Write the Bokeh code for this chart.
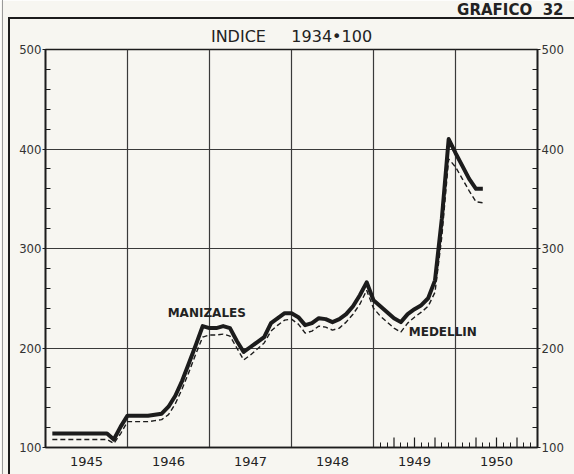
import numpy as np
from bokeh.plotting import figure
from bokeh.models import FixedTicker, LinearAxis, Label, ColumnDataSource, Title, InlineStyleSheet
from bokeh.embed import file_html
from bokeh.resources import INLINE

# ---- data -------------------------------------------------------------
years = [1945, 1946, 1947, 1948, 1949, 1950]
year_labels = ["1945", "1946", "1947", "1948", "1949", "1950"]

# monthly series Jan 1945 .. Apr 1950 (plotted at month end)
month_year = ([1945] * 12 + [1946] * 12 + [1947] * 12 + [1948] * 12 + [1949] * 12 + [1950] * 4)
month_num = list(range(1, 13)) * 5 + [1, 2, 3, 4]

manizales = [114, 114, 114, 114, 114, 114, 114, 114, 114, 108, 121, 132,
             132, 132, 132, 133, 134, 141, 152, 167, 185, 203, 222, 220,
             220, 222, 220, 207, 196, 201, 206, 211, 225, 230, 235, 235,
             231, 223, 225, 230, 229, 226, 229, 234, 242, 253, 266, 248,
             242, 236, 230, 226, 234, 239, 243, 250, 268, 330, 410, 396,
             383, 370, 360, 360]

medellin = [108, 108, 108, 108, 108, 108, 108, 108, 108, 104, 114, 126,
            126, 126, 126, 127, 128, 133, 144, 159, 176, 194, 211, 213,
            213, 214, 212, 200, 188, 193, 199, 205, 217, 223, 228, 229,
            224, 215, 217, 222, 221, 218, 220, 226, 234, 244, 258, 240,
            232, 226, 220, 216, 225, 231, 236, 242, 256, 312, 390, 382,
            370, 358, 347, 346]

y_ticks = [100, 200, 300, 400, 500]
y_minor = [120, 140, 160, 180, 220, 240, 260, 280, 320, 340, 360, 380, 420, 440, 460, 480]
grid_y = [200, 300, 400]
grid_x = [1946, 1947, 1948, 1949, 1950]

# month tick marks shown in 1949-1950
tick_months = [1, 2, 3, 4, 5, 6, 7, 8, 9, 10, 11]
tall_months = [3, 6, 9]
tick_years = [1949, 1950]

# ---- derived positions ------------------------------------------------
t = [y + m / 12.0 for y, m in zip(month_year, month_num)]
year_mid = [y + 0.5 for y in years]
minor_x = [y + m / 12.0 for y in tick_years for m in tick_months if m not in tall_months]
tall_x = [y + m / 12.0 for y in tick_years for m in tall_months]

BG = "#f7f6f1"
INK = "#1c1c1c"

p = figure(width=574, height=474, x_range=(1945, 1951), y_range=(100, 500),
           output_backend="svg", toolbar_location=None,
           min_border_left=45, min_border_right=37, min_border_top=0, min_border_bottom=27,
           background_fill_color=BG, border_fill_color=BG, outline_line_color=INK,
           outline_line_width=1.6)

# outermost title: sheet number; inner title: index base
p.title.text = "GRAFICO  32".replace(" ", "\u00a0")
p.title.align = "right"
p.title.offset = -26
p.title.vertical_align = "top"
p.title.text_font = "DejaVu Sans"
p.title.text_font_style = "bold"
p.title.text_font_size = "15px"
p.title.text_color = "#222222"
p.title.standoff = 0

p.add_layout(Title(text="INDICE\u00a0\u00a0\u00a0\u00a0\u00a01934\u2022100", align="center",
                   vertical_align="bottom",
                   text_font="DejaVu Sans", text_font_style="normal", text_font_size="16px",
                   text_color="#222222", standoff=8,
                   padding=dict(left=0, right=0, top=0, bottom=0)), "above")

# grid
p.xgrid.ticker = FixedTicker(ticks=grid_x)
p.ygrid.ticker = FixedTicker(ticks=grid_y)
for g in (p.xgrid, p.ygrid):
    g.grid_line_color = "#3a3a3a"
    g.grid_line_width = 1.2

# bottom axis: year names centred in each year, month ticks in 1949-50
xa = p.xaxis[0]
xa.ticker = FixedTicker(ticks=year_mid, minor_ticks=minor_x)
xa.major_label_overrides = {ym: lab for ym, lab in zip(year_mid, year_labels)}
xa.major_tick_in = 0
xa.major_tick_out = 0
xa.minor_tick_in = 5
xa.minor_tick_out = 0
xa.minor_tick_line_color = INK
xa.axis_line_color = INK
xa.axis_line_width = 1.6
xa.major_label_standoff = 9
xa.major_label_text_font = "DejaVu Sans"
xa.major_label_text_font_size = "13px"
xa.major_label_text_color = "#222222"

def style_y(ax):
    ax.ticker = FixedTicker(ticks=y_ticks, minor_ticks=y_minor)
    ax.major_tick_in = 0
    ax.major_tick_out = 3
    ax.minor_tick_in = 5
    ax.minor_tick_out = 0
    ax.major_tick_line_color = INK
    ax.minor_tick_line_color = INK
    ax.major_tick_line_width = 1.2
    ax.axis_line_color = INK
    ax.axis_line_width = 1.6
    ax.major_label_standoff = 1
    ax.major_label_text_font = "DejaVu Sans Condensed"
    ax.major_label_text_font_size = "13px"
    ax.major_label_text_color = "#333333"

style_y(p.yaxis[0])
ry = LinearAxis()
style_y(ry)
p.add_layout(ry, "right")

# quarter tick marks (taller), clipped at the frame bottom
p.scatter(x=tall_x, y=[y_ticks[0]] * len(tall_x), marker="dash", angle=np.pi / 2,
          size=20, line_color=INK, line_width=1.2)

src = ColumnDataSource(dict(t=t, man=manizales, med=medellin))
p.line("t", "med", source=src, line_color=INK, line_width=1.4, line_dash="5 3")
p.line("t", "man", source=src, line_color=INK, line_width=4, line_join="round")

lab_style = dict(text_font="DejaVu Sans", text_font_style="bold", text_font_size="12px",
                 text_color="#222222", text_baseline="middle", text_align="left")
p.add_layout(Label(x=1946.49, y=235, text="MANIZALES", **lab_style))
p.add_layout(Label(x=1949.43, y=216, text="MEDELLIN", **lab_style))

# printed sheet frame (top and left rule) and page edge, as overlay styling
p.stylesheets = [InlineStyleSheet(css="""
:host::after { content: ''; position: absolute; left: 8px; top: 17px; right: 0; bottom: 0;
  border-top: 2.5px solid #1c1c1c; border-left: 2.5px solid #1c1c1c;
  pointer-events: none; z-index: 20; }
:host::before { content: ''; position: absolute; left: 2px; top: 0; bottom: 0; width: 0;
  border-left: 1px solid #9a9a9a; pointer-events: none; z-index: 20; }
""")]

open("out.html", "w").write(file_html(p, INLINE))
